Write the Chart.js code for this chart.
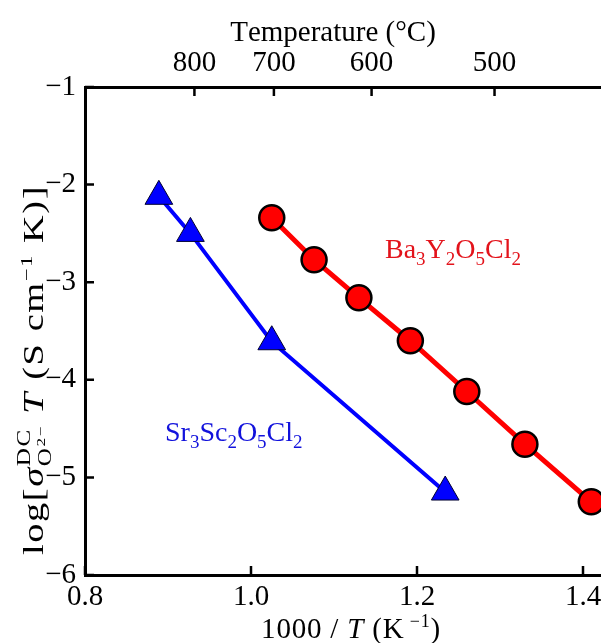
<!DOCTYPE html>
<html>
<head>
<meta charset="utf-8">
<script src="https://cdn.jsdelivr.net/npm/chart.js@4.4.1/dist/chart.umd.min.js"></script>
<style>
  html, body { margin: 0; padding: 0; background: #fff; overflow: hidden; width: 601px; height: 643px; }
  #wrap { position: relative; width: 700px; height: 643px; }
</style>
</head>
<body>
<div id="wrap"><canvas id="c" width="700" height="643"></canvas></div>
<script>
// Oxide-ion conductivity, Arrhenius form: x = 1000/T (K^-1), y = log(sigma*T)
const srX = [0.889, 0.927, 1.025, 1.234];
const srY = [-2.12, -2.50, -3.61, -5.15];
const baX = [1.025, 1.076, 1.130, 1.192, 1.260, 1.330, 1.410];
const baY = [-2.34, -2.77, -3.16, -3.60, -4.12, -4.66, -5.25];

const xTickValues = [0.8, 1.0, 1.2, 1.4];
const yTickValues = [-1, -2, -3, -4, -5, -6];
const tempTicksC = [800, 700, 600, 500, 400];

const SERIF = '"Liberation Serif", "Times New Roman", serif';
const F = 29;

function pairs(xs, ys) { return xs.map((x, i) => ({ x: x, y: ys[i] })); }
const invT = c => 1000 / (c + 273.15);

// ---- small rich-text helper (sub/superscripts) ----
let spacing = 0;
function fontOf(r) { return (r.i ? 'italic ' : '') + (r.s || F) + 'px ' + SERIF; }
function runW(ctx, r) {
  ctx.font = fontOf(r);
  return ctx.measureText(r.t).width + spacing * r.t.length;
}
function itemW(ctx, it) {
  if (it.over) {
    const a = it.over.reduce((s, r) => s + runW(ctx, r), 0);
    const b = it.under.reduce((s, r) => s + runW(ctx, r), 0);
    return Math.max(a, b);
  }
  return runW(ctx, it);
}
function richW(ctx, items) { return items.reduce((s, it) => s + itemW(ctx, it), 0); }
function drawRuns(ctx, runs, x, y) {
  for (const r of runs) {
    ctx.font = fontOf(r);
    for (const ch of r.t) {
      ctx.fillText(ch, x, y + (r.dy || 0));
      x += ctx.measureText(ch).width + spacing;
    }
  }
}
function drawRich(ctx, items, x, y) {
  ctx.textBaseline = 'alphabetic';
  ctx.textAlign = 'left';
  for (const it of items) {
    if (it.over) {
      drawRuns(ctx, it.over, x, y);
      drawRuns(ctx, it.under, x, y);
    } else {
      drawRuns(ctx, [it], x, y);
    }
    x += itemW(ctx, it);
  }
}

const yTitle = [
  { t: 'log[' },
  { t: 'σ', i: true },
  { over: [{ t: 'DC', s: 19, dy: -13 }], under: [{ t: 'O', s: 19, dy: 8 }, { t: '2−', s: 13, dy: 2 }] },
  { t: ' ' },
  { t: 'T', i: true },
  { t: ' (S cm' },
  { t: '−1', s: 17, dy: -11 },
  { t: ' K)]' }
];
const xTitle = [
  { t: '1000 / ' },
  { t: 'T', i: true },
  { t: ' (K' },
  { t: ' −1', s: 18, dy: -11 },
  { t: ')' }
];
const topTitle = [{ t: 'Temperature (°C)' }];
const A = 28;
const sub = (d) => ({ t: d, s: 19, dy: 7 });
const baLabel = [{ t: 'Ba', s: A }, sub('3'), { t: 'Y', s: A }, sub('2'), { t: 'O', s: A }, sub('5'), { t: 'Cl', s: A }, sub('2')];
const srLabel = [{ t: 'Sr', s: A }, sub('3'), { t: 'Sc', s: A }, sub('2'), { t: 'O', s: A }, sub('5'), { t: 'Cl', s: A }, sub('2')];

const decorations = {
  id: 'decorations',
  afterDatasetsDraw(chart) {
    const ctx = chart.ctx;
    const a = chart.chartArea;
    ctx.save();
    // inward tick marks
    ctx.strokeStyle = '#000';
    ctx.lineWidth = 2.5;
    const L = 9;
    const sx = chart.scales.x, st = chart.scales.xTop, sy = chart.scales.y;
    ctx.beginPath();
    sx.ticks.forEach(t => { const p = sx.getPixelForValue(t.value); ctx.moveTo(p, a.bottom); ctx.lineTo(p, a.bottom - L); });
    st.ticks.forEach(t => { const p = st.getPixelForValue(t.value); ctx.moveTo(p, a.top); ctx.lineTo(p, a.top + L); });
    sy.ticks.forEach(t => { const p = sy.getPixelForValue(t.value); ctx.moveTo(a.left, p); ctx.lineTo(a.left + L, p); });
    ctx.stroke();

    ctx.fillStyle = '#000';
    // axis titles
    spacing = 0.8;
    let w = richW(ctx, xTitle);
    drawRich(ctx, xTitle, 351 - w / 2, 638);
    spacing = 0;
    w = richW(ctx, topTitle);
    drawRich(ctx, topTitle, 332 - w / 2, 41);

    // left title, rotated, slightly spaced and elongated along its length
    ctx.save();
    ctx.translate(43, 370);
    ctx.rotate(-Math.PI / 2);
    spacing = 1.2;
    w = richW(ctx, yTitle);
    ctx.scale(370 / w, 1);
    drawRich(ctx, yTitle, -w / 2, 0);
    spacing = 0;
    ctx.restore();

    // series labels
    ctx.fillStyle = '#e3131b';
    drawRich(ctx, baLabel, 385, 258);
    ctx.fillStyle = '#1212dc';
    drawRich(ctx, srLabel, 165, 441);
    ctx.restore();
  }
};

const tickFont = { family: SERIF, size: F };

new Chart(document.getElementById('c'), {
  type: 'scatter',
  data: {
    datasets: [
      {
        label: 'Ba3Y2O5Cl2',
        data: pairs(baX, baY),
        showLine: true,
        borderColor: '#ff0000',
        borderWidth: 5,
        pointStyle: 'circle',
        pointRadius: 12.5,
        pointHoverRadius: 12.5,
        pointBackgroundColor: '#ff0000',
        pointBorderColor: '#000',
        pointBorderWidth: 2.5
      },
      {
        label: 'Sr3Sc2O5Cl2',
        data: pairs(srX, srY),
        showLine: true,
        borderColor: '#0000ff',
        borderWidth: 4,
        pointStyle: 'triangle',
        pointRadius: 16,
        pointHoverRadius: 16,
        pointBackgroundColor: '#0000ff',
        pointBorderColor: '#000030',
        pointBorderWidth: 1
      }
    ]
  },
  options: {
    responsive: false,
    animation: false,
    events: [],
    layout: { padding: { left: 0, right: 34, top: 0, bottom: 0 } },
    plugins: { legend: { display: false }, tooltip: { enabled: false } },
    scales: {
      x: {
        type: 'linear', position: 'bottom', min: 0.8, max: 1.5,
        afterBuildTicks: s => { s.ticks = xTickValues.map(v => ({ value: v })); },
        afterFit: s => { s.height = 68; },
        grid: { display: false, drawTicks: false },
        border: { display: true, color: '#000', width: 3 },
        ticks: { font: tickFont, color: '#000', padding: 5, maxRotation: 0, callback: v => v.toFixed(1) }
      },
      xTop: {
        type: 'linear', position: 'top', min: 0.8, max: 1.5,
        afterBuildTicks: s => { s.ticks = tempTicksC.map(c => ({ value: invT(c) })); },
        afterFit: s => { s.height = 87; },
        grid: { display: false, drawTicks: false },
        border: { display: true, color: '#000', width: 3 },
        ticks: { font: tickFont, color: '#000', padding: 6, maxRotation: 0, callback: v => String(Math.round(1000 / v - 273.15)) }
      },
      y: {
        type: 'linear', position: 'left', min: -6, max: -1,
        afterBuildTicks: s => { s.ticks = yTickValues.map(v => ({ value: v })); },
        afterFit: s => { s.width = 85; },
        grid: { display: false, drawTicks: false },
        border: { display: true, color: '#000', width: 3 },
        ticks: { font: tickFont, color: '#000', padding: 9, callback: v => (v < 0 ? '\u2212' : '') + Math.abs(v) }
      }
    }
  },
  plugins: [decorations]
});
</script>
</body>
</html>
